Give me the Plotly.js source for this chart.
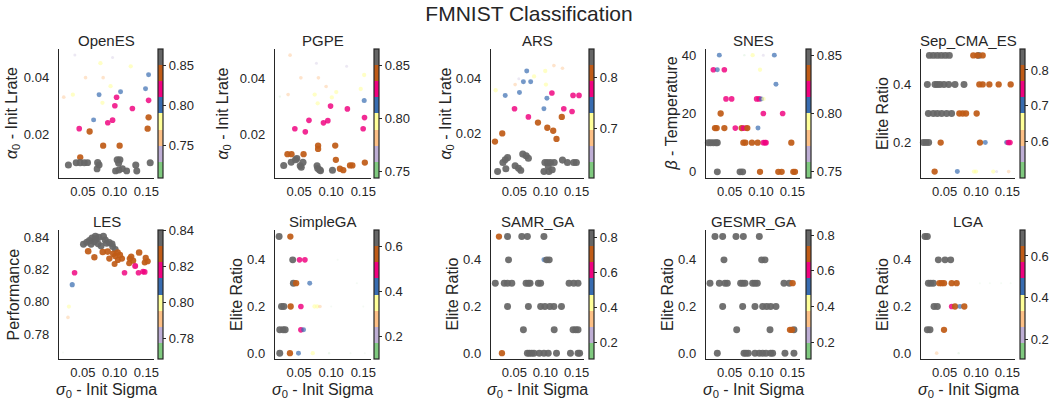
<!DOCTYPE html>
<html><head><meta charset="utf-8">
<script src="https://cdn.plot.ly/plotly-3.0.1.min.js"></script>
<style>html,body{margin:0;padding:0;background:#fff}#chart{width:1058px;height:404px}</style>
</head><body><div id="chart"></div>
<script>
// ---------------- DATA ----------------
const algoNames = ['OpenES','PGPE','ARS','SNES','Sep_CMA_ES','LES','SimpleGA','SAMR_GA','GESMR_GA','LGA'];
const yTitles = ['<i>α</i><sub>0</sub> - Init Lrate','<i>α</i><sub>0</sub> - Init Lrate','<i>α</i><sub>0</sub> - Init Lrate','<i>β</i> - Temperature','Elite Ratio','Performance','Elite Ratio','Elite Ratio','Elite Ratio','Elite Ratio'];
const xTitle = '<i>σ</i><sub>0</sub> - Init Sigma';
const xTickVals = [0.05, 0.10, 0.15];
const xTickText = ['0.05','0.10','0.15'];
const yTickVals = [[0.02,0.04],[0.02,0.04],[0.02,0.04],[0,20,40],[0.2,0.4],[0.78,0.80,0.82,0.84],[0.0,0.2,0.4],[0.0,0.2,0.4],[0.0,0.2,0.4],[0.0,0.2,0.4]];
const yTickText = [['0.02','0.04'],['0.02','0.04'],['0.02','0.04'],['0','20','40'],['0.2','0.4'],['0.78','0.80','0.82','0.84'],['0.0','0.2','0.4'],['0.0','0.2','0.4'],['0.0','0.2','0.4'],['0.0','0.2','0.4']];
const cbTickVals = [[0.75,0.80,0.85],[0.75,0.80,0.85],[0.7,0.8],[0.75,0.80,0.85],[0.6,0.7,0.8],[0.78,0.80,0.82,0.84],[0.2,0.4,0.6],[0.2,0.4,0.6,0.8],[0.2,0.4,0.6,0.8],[0.2,0.4,0.6]];
const cbTickText = [['0.75','0.80','0.85'],['0.75','0.80','0.85'],['0.7','0.8'],['0.75','0.80','0.85'],['0.6','0.7','0.8'],['0.78','0.80','0.82','0.84'],['0.2','0.4','0.6'],['0.2','0.4','0.6','0.8'],['0.2','0.4','0.6','0.8'],['0.2','0.4','0.6']];
const perfMin = [0.710,0.744,0.602,0.744,0.496,0.7685,0.097,0.105,0.107,0.104];
const perfMax = [0.870,0.866,0.857,0.856,0.859,0.8405,0.675,0.842,0.828,0.725];

const openesSigma = [0.0375,0.0968,0.0777,0.1254,0.1535,0.0543,0.082,0.0936,0.1487,0.1094,0.0756,0.0343,0.020,0.1031,0.1535,0.0809,0.1004,0.128,0.1535,0.067,0.0968,0.0893,0.0443,0.152,0.0607,0.082,0.1079,0.0459,
  0.0273,0.0395,0.0459,0.0523,0.0575,0.0734,0.0756,0.0724,0.1042,0.1083,0.1063,0.1015,0.1068,0.1122,0.119,0.1333,0.1349,0.156];
const openesLrate = [0.048,0.0471,0.0451,0.044,0.041,0.040,0.040,0.037,0.0361,0.035,0.034,0.034,0.0331,0.0331,0.032,0.0311,0.0301,0.0291,0.026,0.0251,0.025,0.0241,0.022,0.022,0.021,0.016,0.016,0.0119,
  0.0092,0.010,0.010,0.010,0.010,0.010,0.0092,0.0078,0.011,0.011,0.0098,0.0071,0.0074,0.0079,0.0071,0.0092,0.0071,0.010];
const openesPerf = [0.74,0.74,0.78,0.78,0.80,0.76,0.76,0.78,0.80,0.80,0.80,0.78,0.76,0.82,0.82,0.78,0.82,0.82,0.84,0.80,0.82,0.82,0.82,0.84,0.84,0.84,0.84,0.84,
  0.862,0.858,0.865,0.860,0.857,0.866,0.860,0.855,0.868,0.864,0.860,0.858,0.862,0.860,0.856,0.864,0.859,0.862];

const pgpeSigma = [0.036,0.077,0.124,0.1514,0.0528,0.0801,0.0921,0.146,0.1079,0.0743,0.0329,0.020,0.101,0.1514,0.079,
  0.099,0.1252,0.1519,0.0654,0.0948,0.088,0.0434,0.1498,0.0597,
  0.0796,0.1063,0.0796,0.0319,0.0382,0.057,0.1073,0.1136,0.1188,0.1293,0.133,0.1524,
  0.0261,0.0377,0.0445,0.0466,0.0518,0.0534,0.056,0.078,0.079,0.082,0.0835,0.102];
const pgpeLrate = [0.0483,0.0454,0.0443,0.0412,0.0402,0.0402,0.0371,0.0362,0.0351,0.0342,0.0342,0.0335,0.0332,0.0321,0.0311,
  0.0301,0.0291,0.026,0.025,0.0249,0.0241,0.022,0.022,0.0209,
  0.016,0.016,0.0148,0.0129,0.0129,0.0129,0.0109,0.0077,0.0072,0.0089,0.0089,0.0099,
  0.0089,0.0100,0.0109,0.0114,0.0088,0.0082,0.0100,0.0088,0.0078,0.0073,0.0070,0.0072];
const pgpePerf = [0.782,0.767,0.767,0.797,0.782,0.782,0.782,0.797,0.797,0.797,0.782,0.752,0.797,0.813,0.797,
  0.828,0.828,0.828,0.828,0.828,0.828,0.828,0.828,0.828,
  0.843,0.843,0.843,0.843,0.843,0.843,0.843,0.843,0.843,0.843,0.843,0.843,
  0.860,0.858,0.862,0.857,0.861,0.859,0.864,0.860,0.858,0.863,0.857,0.860];

const arsSigma = [0.1136,0.1274,0.0700,0.0997,0.0817,0.0572,0.0646,0.0763,0.0513,0.1008,0.0200,0.0583,0.1104,0.0354,0.1444,0.1540,0.1024,0.0503,0.0976,0.1295,0.1428,0.0726,
  0.1263,0.0880,0.1030,0.1125,0.0306,0.1178,0.0189,
  0.0391,0.0354,0.0317,0.0231,0.0364,0.0513,0.0567,0.0604,0.0636,0.0690,0.0726,0.0992,0.1035,0.1083,0.1141,0.0976,0.1056,0.1109,0.1045,0.1274,0.1354,0.1455,0.1497];
const arsLrate = [0.0449,0.0439,0.0429,0.0429,0.0409,0.0400,0.0389,0.0389,0.0379,0.0379,0.0358,0.0350,0.0348,0.0339,0.0339,0.0339,0.0329,0.0290,0.0290,0.0290,0.0280,0.0260,
  0.0260,0.0239,0.0220,0.0209,0.0199,0.0179,0.0169,
  0.0110,0.0102,0.0092,0.0059,0.0069,0.0080,0.0071,0.0063,0.0123,0.0117,0.0108,0.0092,0.0092,0.0092,0.0092,0.0059,0.0059,0.0065,0.0077,0.0101,0.0092,0.0092,0.0092];
const arsPerf = [0.682,0.682,0.745,0.714,0.714,0.650,0.745,0.745,0.682,0.714,0.714,0.745,0.777,0.745,0.777,0.777,0.745,0.777,0.745,0.777,0.777,0.777,
  0.809,0.809,0.809,0.809,0.809,0.809,0.809,
  0.845,0.842,0.848,0.840,0.844,0.846,0.842,0.840,0.850,0.848,0.845,0.846,0.848,0.844,0.845,0.841,0.843,0.844,0.842,0.847,0.845,0.846,0.844];

const snesSigma = [0.0337,0.0735,0.0867,0.1037,0.1212,0.0242,0.0305,0.0417,0.0984,0.1238,0.0443,0.0533,0.0930,0.0970,0.1005,0.1020,0.1040,
  0.0358,0.1037,0.1344,0.0268,0.0295,0.0417,0.0591,0.0692,0.0719,0.0761,0.0782,0.0952,
  0.0162,0.0199,0.0242,0.0284,0.0305,0.0719,0.0751,0.0856,0.0947,0.1037,0.1063,0.1080,0.1482,
  0.0305,0.0666,0.0708,0.0984,0.1275,0.1328,0.1514,0.1540];
const snesTemp = [40,40,40,40,40,35,35,35,35,30,25,25,25,25,25,25,25,
  20,20,20,15,15,15,15,15,15,15,15,15,
  10,10,10,10,10,10,10,10,10,10,10,10,10,
  0,0,0,0,0,0,0,0];
const snesPerf = [0.807,0.751,0.793,0.765,0.807,0.821,0.807,0.821,0.793,0.807,0.821,0.821,0.821,0.821,0.807,0.765,0.793,
  0.835,0.821,0.821,0.835,0.835,0.835,0.821,0.835,0.821,0.821,0.835,0.807,
  0.849,0.849,0.849,0.849,0.849,0.835,0.835,0.835,0.835,0.821,0.821,0.821,0.835,
  0.849,0.849,0.849,0.835,0.835,0.835,0.835,0.835];

const sepSigma = [0.0258,0.0321,0.0385,0.0448,0.0512,0.0576,0.1042,0.0957,0.1021,0.1106,
  0.0226,0.0348,0.0385,0.0427,0.0491,0.0565,0.0666,0.0809,0.1053,0.1106,0.1212,0.1360,0.1551,
  0.0242,0.0321,0.0385,0.0454,0.0533,0.0612,0.0735,0.0788,0.0841,0.1010,
  0.0162,0.0204,0.0247,0.0438,0.1063,0.1148,0.1487,0.1514,0.1540,
  0.0342,0.0703,0.0968,0.1000,0.1275,0.1328,0.1519];
const sepElite = [0.5,0.5,0.5,0.5,0.5,0.5,0.5,0.5,0.5,0.5,
  0.4,0.4,0.4,0.4,0.4,0.4,0.4,0.4,0.4,0.4,0.4,0.4,0.4,
  0.3,0.3,0.3,0.3,0.3,0.3,0.3,0.3,0.3,0.3,
  0.2,0.2,0.2,0.2,0.2,0.2,0.2,0.2,0.2,
  0.1,0.1,0.1,0.1,0.1,0.1,0.1];
const sepPerf = [0.836,0.836,0.836,0.836,0.836,0.836,0.836,0.791,0.791,0.791,
  0.836,0.836,0.836,0.836,0.836,0.836,0.836,0.836,0.791,0.791,0.791,0.791,0.791,
  0.836,0.836,0.836,0.836,0.836,0.836,0.791,0.791,0.791,0.791,
  0.836,0.836,0.836,0.791,0.791,0.700,0.700,0.745,0.745,
  0.791,0.700,0.655,0.655,0.655,0.564,0.609];

const lesSigma = [0.0188,0.0266,0.0281,0.0333,0.0370,
  0.051,0.0563,0.0604,0.0646,0.0682,0.0708,0.0740,0.0787,0.0823,0.0854,0.0875,0.0917,0.0959,0.0969,0.1011,0.0698,0.0750,0.063,
  0.0584,0.0682,0.0813,0.0891,0.0917,0.0979,0.1011,0.1047,0.1052,0.1084,0.1115,0.1000,0.1230,0.1240,0.1261,0.1292,0.1386,0.1474,0.1490,0.1521,
  0.1156,0.1324,0.1376,0.1448,0.1474];
const lesPerf = [0.7685,0.7903,0.797,0.8106,0.818,
  0.8357,0.8369,0.8379,0.8394,0.8373,0.8388,0.8359,0.8346,0.8405,0.8383,0.8363,0.8367,0.8359,0.8342,0.8325,0.8405,0.8400,0.8357,
  0.8313,0.8276,0.8309,0.8311,0.8268,0.8297,0.8284,0.8305,0.8259,0.8290,0.8268,0.8234,0.8239,0.8268,0.8280,0.8255,0.8305,0.8243,0.8272,0.8251,
  0.8180,0.8222,0.8180,0.8187,0.8185];

const sgaSigma = [0.0189,0.0364, 0.0401,0.0507,0.0591,0.11, 0.0411,0.0454,0.0666,0.14,
  0.0226,0.0263,0.0369,0.0528,0.074,0.0782,0.0825,0.10,0.15,
  0.0199,0.0252,0.0284,0.0528,0.057,
  0.0199,0.0358,0.0491,0.0713,0.0968,0.1301,0.1524];
const sgaElite = [0.5,0.5, 0.4,0.4,0.4,0.4, 0.3,0.3,0.3,0.3,
  0.2,0.2,0.2,0.2,0.2,0.2,0.2,0.2,0.2,
  0.1,0.1,0.1,0.1,0.1,
  0.0,0.0,0.0,0.0,0.0,0.0,0.0];
const sgaPerf = [0.639,0.567, 0.639,0.494,0.494,0.100, 0.639,0.567,0.422,0.100,
  0.639,0.639,0.567,0.494,0.350,0.350,0.278,0.100,0.100,
  0.639,0.639,0.639,0.494,0.422,
  0.639,0.567,0.422,0.350,0.133,0.105,0.100];

const samrSigma = [0.0253,0.0391,0.062,0.071,0.0976,
  0.0407,0.0976,0.1019,0.1061,
  0.0194,0.0338,0.0391,0.0460,0.0689,0.0726,0.0753,0.0886,0.0923,0.138,0.1455,0.1524,
  0.0391,0.0726,0.0923,0.0992,0.1072,0.1136,0.1258,
  0.0646,0.1141,0.1444,0.1487,0.1524,
  0.0301,0.071,0.0742,0.0779,0.0816,0.0902,0.0976,0.1045,0.1178,0.1402,0.1524,0.155];
const samrElite = [0.5,0.5,0.5,0.5,0.5,
  0.4,0.4,0.4,0.4,
  0.3,0.3,0.3,0.3,0.3,0.3,0.3,0.3,0.3,0.3,0.3,0.3,
  0.2,0.2,0.2,0.2,0.2,0.2,0.2,
  0.1,0.1,0.1,0.1,0.1,
  0.0,0.0,0.0,0.0,0.0,0.0,0.0,0.0,0.0,0.0,0.0,0.0];
const samrPerf = [0.704,0.796,0.796,0.796,0.796,
  0.796,0.520,0.796,0.796,
  0.796,0.796,0.796,0.796,0.796,0.796,0.796,0.796,0.796,0.796,0.796,0.796,
  0.796,0.796,0.796,0.796,0.796,0.796,0.796,
  0.796,0.796,0.796,0.796,0.796,
  0.704,0.796,0.796,0.796,0.796,0.796,0.796,0.796,0.796,0.796,0.796,0.796];

const gesmrSigma = [0.0268,0.039,0.0602,0.0719,0.0973,
  0.0411,0.101,0.1063,
  0.0189,0.0337,0.0427,0.0464,0.0676,0.0708,0.0745,0.0867,0.0904,0.0941,0.1365,0.145,0.1503,
  0.039,0.0708,0.0904,0.1026,0.109,0.1153,0.1238,
  0.0613,0.1143,0.1524,0.1461,0.1492,
  0.0305,0.0729,0.0761,0.0798,0.0904,0.0973,0.1026,0.1079,0.1153,0.1185,0.1381,0.1524];
const gesmrElite = [0.5,0.5,0.5,0.5,0.5,
  0.4,0.4,0.4,
  0.3,0.3,0.3,0.3,0.3,0.3,0.3,0.3,0.3,0.3,0.3,0.3,0.3,
  0.2,0.2,0.2,0.2,0.2,0.2,0.2,
  0.1,0.1,0.1,0.1,0.1,
  0.0,0.0,0.0,0.0,0.0,0.0,0.0,0.0,0.0,0.0,0.0,0.0];
const gesmrPerf = [0.783,0.783,0.783,0.783,0.783,
  0.783,0.783,0.783,
  0.783,0.783,0.783,0.783,0.783,0.783,0.783,0.783,0.783,0.783,0.783,0.783,0.693,
  0.783,0.783,0.783,0.783,0.783,0.783,0.783,
  0.783,0.783,0.783,0.693,0.693,
  0.783,0.783,0.783,0.783,0.783,0.783,0.783,0.783,0.783,0.783,0.783,0.783];

const lgaSigma = [0.0189,0.0226,
  0.0401,0.0507,0.0597,
  0.0242,0.0279,0.0321,0.0417,0.0454,0.0491,0.0613,0.0692,0.106,0.122,0.14,0.155,
  0.0332,0.0385,0.0613,0.0666,0.0745,0.0814,
  0.0226,0.0268,0.0491,
  0.0374,0.0724];
const lgaElite = [0.5,0.5,
  0.4,0.4,0.4,
  0.3,0.3,0.3,0.3,0.3,0.3,0.3,0.3,0.3,0.3,0.3,0.3,
  0.2,0.2,0.2,0.2,0.2,0.2,
  0.1,0.1,0.1,
  0.0,0.0];
const lgaPerf = [0.686,0.686,
  0.686,0.686,0.686,
  0.686,0.686,0.686,0.608,0.608,0.608,0.608,0.608,0.106,0.106,0.106,0.106,
  0.686,0.686,0.531,0.608,0.453,0.608,
  0.686,0.686,0.608,
  0.298,0.143];

// ---------------- BUILD ----------------
const xs = [openesSigma,pgpeSigma,arsSigma,snesSigma,sepSigma,lesSigma,sgaSigma,samrSigma,gesmrSigma,lgaSigma];
const ys = [openesLrate,pgpeLrate,arsLrate,snesTemp,sepElite,lesPerf,sgaElite,samrElite,gesmrElite,lgaElite];
const cs = [openesPerf,pgpePerf,arsPerf,snesPerf,sepPerf,lesPerf,sgaPerf,samrPerf,gesmrPerf,lgaPerf];

const yRanges = [[0.0046,0.0501],[0.0044,0.0505],[0.0035,0.051],[-2.1,42.1],[0.078,0.522],[0.7645,0.8445],[-0.025,0.528],[-0.025,0.528],[-0.025,0.528],[-0.025,0.528]];
const W = 1058, H = 404;
const colX = [[59,154],[275,371],[491,584],[706,800],[921,1015]];
const cbX = [158,374,589,806,1020];
const rowY = [[49,178],[230,359]];
const titleY = [40.5, 221.7];
const yTitleX = [12.5,223,446,671,882.5, 13,236.5,452,667.5,882.5];
const xTitleY = 390.5;
const accent = ['#7fc97f','#beaed4','#fdc086','#ffff99','#386cb0','#f0027f','#bf5b17','#666666'];
const colorscale = [];
accent.forEach((c,i)=>{colorscale.push([i/8,c]);colorscale.push([(i+1)/8,c]);});
const txt = '#262626';
const FONT = 'Liberation Sans, Arial, sans-serif';

const data = [];
const layout = {
  width: W, height: H, margin: {l:0,r:0,t:0,b:0},
  paper_bgcolor: '#fff', plot_bgcolor: '#fff', showlegend: false,
  font: {family: FONT, color: txt, size: 13},
  title: {text: 'FMNIST Classification', x: 0.5, xanchor: 'center', y: 1 - 14/H, yanchor: 'middle', font: {size: 21, color: txt, family: FONT}},
  annotations: []
};

for (let i = 0; i < 10; i++) {
  const r = Math.floor(i/5), c = i % 5;
  const sfx = i === 0 ? '' : String(i+1);
  const lo = perfMin[i], hi = perfMax[i];
  const norm = cs[i].map(v => Math.max(0, Math.min(1, (v - lo) / (hi - lo))));
  layout['xaxis' + sfx] = {
    domain: [colX[c][0]/W, colX[c][1]/W], anchor: 'y' + sfx,
    range: [0.0125, 0.162], tickvals: xTickVals, ticktext: xTickText,
    showline: true, linecolor: txt, linewidth: 1.25, mirror: false,
    ticks: 'outside', ticklen: 1, tickcolor: 'rgba(0,0,0,0)',
    showgrid: false, zeroline: false, tickfont: {size: 13, color: txt}
  };
  layout['yaxis' + sfx] = {
    domain: [1 - rowY[r][1]/H, 1 - rowY[r][0]/H], anchor: 'x' + sfx,
    range: yRanges[i], tickvals: yTickVals[i], ticktext: yTickText[i],
    showline: true, linecolor: txt, linewidth: 1.25, mirror: false,
    ticks: 'outside', ticklen: 6, tickcolor: 'rgba(0,0,0,0)',
    showgrid: false, zeroline: false, tickfont: {size: 13, color: txt}
  };
  layout.annotations.push({
    text: algoNames[i], xref: 'paper', yref: 'paper',
    x: (colX[c][0] + colX[c][1]) / 2 / W, y: 1 - titleY[r]/H,
    xanchor: 'center', yanchor: 'middle', showarrow: false,
    font: {size: 15, color: txt, family: FONT}
  });
  layout.annotations.push({
    text: yTitles[i], xref: 'paper', yref: 'paper', textangle: -90,
    x: yTitleX[i] / W, y: 1 - (rowY[r][0] + rowY[r][1]) / 2 / H,
    xanchor: 'center', yanchor: 'middle', showarrow: false,
    font: {size: 16, color: txt, family: FONT}
  });
  if (r === 1) {
    layout.annotations.push({
      text: xTitle, xref: 'paper', yref: 'paper',
      x: (colX[c][0] + colX[c][1]) / 2 / W, y: 1 - xTitleY / H,
      xanchor: 'center', yanchor: 'middle', showarrow: false,
      font: {size: 16, color: txt, family: FONT}
    });
  }
  data.push({
    type: 'scatter', mode: 'markers', x: xs[i], y: ys[i],
    xaxis: 'x' + sfx, yaxis: 'y' + sfx, hoverinfo: 'skip', cliponaxis: false,
    marker: {
      color: cs[i], cmin: lo, cmax: hi, colorscale: colorscale,
      size: norm.map(n => 2 + 5.3*n),
      opacity: norm.map(n => Math.min(0.93, 0.08 + 1.1*n)),
      line: {width: 0},
      showscale: true,
      colorbar: {
        x: cbX[c]/W, xanchor: 'left', xref: 'paper', xpad: 0,
        y: 1 - (rowY[r][0] + rowY[r][1]) / 2 / H, yanchor: 'middle', yref: 'paper', ypad: 0,
        len: (rowY[r][1] - rowY[r][0]) / H, lenmode: 'fraction',
        thickness: 5, thicknessmode: 'pixels',
        outlinewidth: 1.2, outlinecolor: txt,
        tickvals: cbTickVals[i], ticktext: cbTickText[i],
        ticks: 'outside', ticklen: 3, tickwidth: 1, tickcolor: txt,
        tickfont: {size: 13, color: txt, family: FONT}
      }
    }
  });
}

Plotly.newPlot('chart', data, layout, {staticPlot: true, displayModeBar: false});
</script></body></html>
